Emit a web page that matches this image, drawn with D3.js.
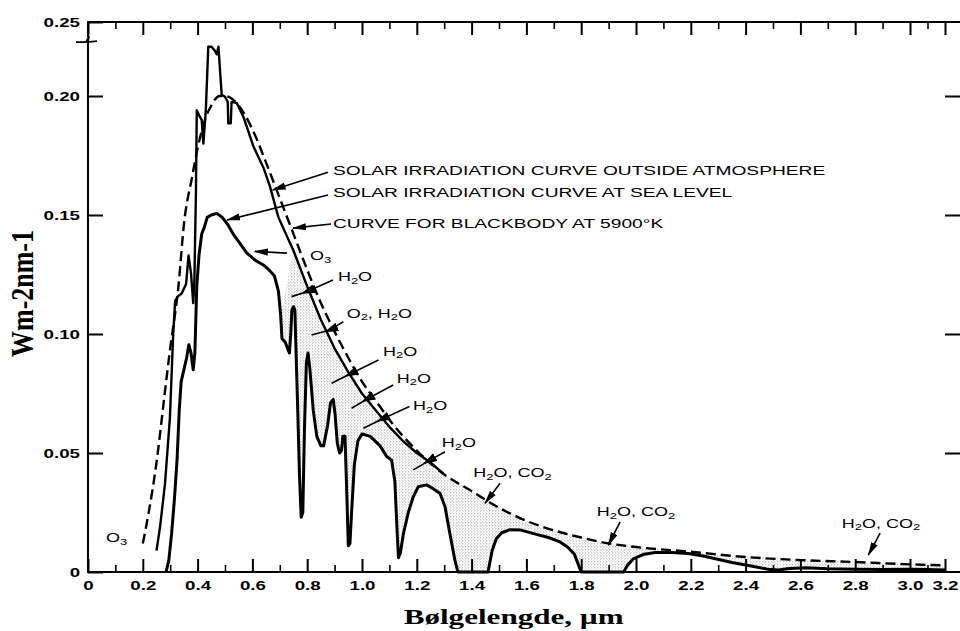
<!DOCTYPE html>
<html>
<head>
<meta charset="utf-8">
<script src="https://cdn.jsdelivr.net/npm/d3@7"></script>
<style>
  body { margin: 0; background: #fff; }
  svg { display: block; }
</style>
</head>
<body>
<svg id="chart" width="960" height="631"></svg>
<script>
/*
 * Solar irradiation spectrum.
 * Wavelength in micrometres, irradiance in W m-2 nm-1.
 */

// blackbody at 5900 K (dashed)
var bbWave = [0.20, 0.22, 0.25, 0.28, 0.30, 0.33, 0.35, 0.38, 0.40, 0.43, 0.45, 0.48, 0.50, 0.55,
  0.60, 0.65, 0.70, 0.75, 0.80, 0.85, 0.90, 0.95, 1.00, 1.05, 1.10, 1.20, 1.30, 1.40, 1.50, 1.60,
  1.70, 1.80, 1.90, 2.00, 2.20, 2.40, 2.60, 2.80, 3.00, 3.20];
var bbIrr = [0.012, 0.024, 0.046, 0.075, 0.094, 0.120, 0.146, 0.166, 0.178, 0.191, 0.196, 0.200, 0.200, 0.196,
  0.186, 0.172, 0.157, 0.142, 0.127, 0.113, 0.101, 0.090, 0.080, 0.072, 0.064, 0.051, 0.041, 0.034, 0.027, 0.0215,
  0.0175, 0.0145, 0.012, 0.0105, 0.0085, 0.0063, 0.005, 0.0042, 0.0032, 0.0028];

// outside the atmosphere (upper solid line)
var outWave = [0.250, 0.263, 0.281, 0.299, 0.311, 0.318, 0.330, 0.342, 0.358, 0.367, 0.376, 0.384, 0.388,
  0.394, 0.397, 0.405, 0.415, 0.421, 0.430, 0.439, 0.451, 0.463, 0.470, 0.476, 0.488, 0.500, 0.510, 0.512,
  0.521, 0.524, 0.543, 0.567, 0.603, 0.640, 0.664, 0.695, 0.750, 0.800, 0.850, 0.900, 0.950, 1.000, 1.050,
  1.100, 1.150, 1.200, 1.250, 1.300];
var outIrr = [0.009, 0.019, 0.037, 0.065, 0.100, 0.114, 0.116, 0.117, 0.121, 0.133, 0.1255, 0.113, 0.121,
  0.160, 0.194, 0.192, 0.190, 0.180, 0.194, 0.2207, 0.2207, 0.219, 0.2175, 0.2207, 0.2005, 0.1997, 0.1975, 0.1885,
  0.1885, 0.1975, 0.197, 0.1913, 0.179, 0.170, 0.162, 0.149, 0.135, 0.120, 0.106, 0.094, 0.084, 0.075, 0.068,
  0.061, 0.055, 0.050, 0.046, 0.041];

// at sea level (lower solid line)
var seaWave = [0.285, 0.295, 0.305, 0.315, 0.325, 0.333, 0.340, 0.350, 0.360, 0.368, 0.376, 0.384, 0.390,
  0.397, 0.405, 0.415, 0.425, 0.435, 0.450, 0.470, 0.490, 0.510, 0.530, 0.555, 0.580, 0.610, 0.640, 0.660,
  0.680, 0.695, 0.703, 0.708, 0.720, 0.728, 0.735, 0.740, 0.744, 0.750, 0.755, 0.758, 0.765, 0.772, 0.778,
  0.784, 0.790, 0.797, 0.803, 0.810, 0.822, 0.835, 0.850, 0.860, 0.875, 0.885, 0.895, 0.902, 0.910, 0.918,
  0.925, 0.930, 0.938, 0.944, 0.950, 0.956, 0.962, 0.972, 0.985, 1.000, 1.030, 1.066, 1.090, 1.108, 1.120,
  1.127, 1.133, 1.140, 1.151, 1.169, 1.187, 1.205, 1.236, 1.260, 1.285, 1.303, 1.321, 1.339, 1.350, 1.460,
  1.475, 1.490, 1.510, 1.540, 1.580, 1.630, 1.680, 1.720, 1.750, 1.775, 1.790, 1.800, 1.955, 1.970, 1.990,
  2.030, 2.070, 2.130, 2.190, 2.240, 2.290, 2.350, 2.420, 2.480, 2.520, 2.560, 2.620, 2.700, 2.800, 2.900,
  3.000, 3.100, 3.200];
var seaIrr = [0, 0.005, 0.016, 0.030, 0.047, 0.068, 0.080, 0.085, 0.090, 0.0955, 0.092, 0.085, 0.092,
  0.120, 0.133, 0.142, 0.145, 0.149, 0.150, 0.1507, 0.149, 0.146, 0.142, 0.138, 0.134, 0.131, 0.129, 0.127,
  0.1245, 0.118, 0.108, 0.098, 0.0965, 0.094, 0.092, 0.100, 0.110, 0.1115, 0.110, 0.098, 0.070, 0.040, 0.023,
  0.025, 0.060, 0.088, 0.092, 0.085, 0.068, 0.057, 0.053, 0.053, 0.062, 0.071, 0.0725, 0.066, 0.054, 0.050,
  0.051, 0.057, 0.057, 0.035, 0.011, 0.012, 0.025, 0.045, 0.055, 0.058, 0.057, 0.053, 0.0485, 0.047, 0.038,
  0.020, 0.006, 0.008, 0.016, 0.025, 0.0316, 0.0358, 0.0366, 0.035, 0.033, 0.0274, 0.016, 0.005, 0, 0,
  0.009, 0.014, 0.0165, 0.0178, 0.0176, 0.016, 0.0145, 0.0128, 0.0105, 0.0075, 0.003, 0, 0, 0.003, 0.0055,
  0.0075, 0.0082, 0.0082, 0.0078, 0.0068, 0.0056, 0.004, 0.0025, 0.0012, 0.0008, 0.0015, 0.0018, 0.0014, 0.0012, 0.001,
  0.0012, 0.001, 0.0008];

// axis ticks
var xMajor = [0, 0.2, 0.4, 0.6, 0.8, 1.0, 1.2, 1.4, 1.6, 1.8, 2.0, 2.2, 2.4, 2.6, 2.8, 3.0, 3.2];
var xMinor = [0.1, 0.3, 0.5, 0.7, 0.9, 1.1, 1.3, 1.5, 1.7, 1.9, 2.1, 2.3, 2.5, 2.7, 2.9, 3.1];
var yTicks = [0, 0.05, 0.10, 0.15, 0.20, 0.25];

// annotations: label (left edge, middle) and arrow points, in data units
var notes = [
  { label: "SOLAR IRRADIATION CURVE OUTSIDE ATMOSPHERE", at: [0.894, 0.1689], line: [[0.876, 0.168], [0.674, 0.1605]] },
  { label: "SOLAR IRRADIATION CURVE AT SEA LEVEL", at: [0.894, 0.1597], line: [[0.876, 0.1584], [0.507, 0.1479]] },
  { label: "CURVE FOR BLACKBODY AT 5900°K", at: [0.894, 0.1466], line: [[0.887, 0.1462], [0.748, 0.1445]] },
  { label: "O_3", at: [0.81, 0.1328], line: [[0.726, 0.134], [0.609, 0.1347]] },
  { label: "H_2O", at: [0.912, 0.124], line: [[0.894, 0.1227], [0.798, 0.1178], [0.743, 0.1157]] },
  { label: "O_2, H_2O", at: [0.944, 0.1087], line: [[0.932, 0.1052], [0.883, 0.1017], [0.816, 0.0996]] },
  { label: "H_2O", at: [1.077, 0.0926], line: [[1.06, 0.0891], [0.956, 0.0832], [0.889, 0.0793]] },
  { label: "H_2O", at: [1.127, 0.0814], line: [[1.114, 0.0786], [1.017, 0.0726], [0.962, 0.0688]] },
  { label: "H_2O", at: [1.186, 0.0697], line: [[1.173, 0.0695], [1.072, 0.0642], [1.005, 0.0604]] },
  { label: "H_2O", at: [1.291, 0.0543], line: [[1.303, 0.0505], [1.242, 0.0466], [1.187, 0.0429]] },
  { label: "H_2O, CO_2", at: [1.406, 0.0417], line: [[1.504, 0.0373], [1.449, 0.0289]] },
  { label: "H_2O, CO_2", at: [1.857, 0.0253], line: [[1.942, 0.0211], [1.899, 0.0113]] },
  { label: "H_2O, CO_2", at: [2.751, 0.0205], line: [[2.891, 0.0163], [2.848, 0.0071]] },
  { label: "O_3", at: [0.066, 0.0143] }
];

/*
 * Drawing
 */
var svg = d3.select("#chart"),
  W = +svg.attr("width"),
  H = +svg.attr("height");

var sans = "'Liberation Sans', Arial, Helvetica, sans-serif";
var serif = "'Liberation Serif', 'Times New Roman', serif";
var SX = 1.5; // the scan is stretched sideways, so is its lettering

// the scan squeezes the last 0.2 um and the top 0.025 (axis break)
var x = d3.scaleLinear().domain([0, 3.0, 3.2]).range([88, 910, 945]);
var y = d3.scaleLinear().domain([0, 0.225, 0.25]).range([572, 36.5, 22]);

function zip(xs, ys) { return xs.map(function (v, i) { return [v, ys[i]]; }); }
var bb = zip(bbWave, bbIrr),
  outside = zip(outWave, outIrr),
  sea = zip(seaWave, seaIrr);

var line = d3.line().x(function (d) { return x(d[0]); }).y(function (d) { return y(d[1]); });

var defs = svg.append("defs");
var pat = defs.append("pattern")
  .attr("id", "stipple")
  .attr("patternUnits", "userSpaceOnUse")
  .attr("width", 3).attr("height", 3);
pat.append("circle").attr("cx", 0.8).attr("cy", 0.8).attr("r", 0.6).attr("fill", "#8a8a8a");
pat.append("circle").attr("cx", 2.3).attr("cy", 2.2).attr("r", 0.45).attr("fill", "#b0b0b0");

defs.append("marker")
  .attr("id", "tip")
  .attr("viewBox", "0 -5 14 10")
  .attr("refX", 13).attr("refY", 0)
  .attr("markerWidth", 14).attr("markerHeight", 10)
  .attr("markerUnits", "userSpaceOnUse")
  .attr("orient", "auto")
  .append("path").attr("d", "M0,-3.6L14,0L0,3.6Z");

defs.append("marker")
  .attr("id", "mid")
  .attr("viewBox", "0 -6 14 12")
  .attr("refX", 8).attr("refY", 0)
  .attr("markerWidth", 14).attr("markerHeight", 12)
  .attr("markerUnits", "userSpaceOnUse")
  .attr("orient", "auto")
  .append("path").attr("d", "M0,-4.5L14,0L0,4.5Z");

// stippled absorption bands between the top curve and sea level
var upper = outside.filter(function (d) { return d[0] >= 0.7; })
  .concat(bb.filter(function (d) { return d[0] > 1.3; }));
var lower = sea.filter(function (d) { return d[0] >= 0.7; }).reverse();
svg.append("path")
  .attr("d", line(upper.concat(lower)) + "Z")
  .attr("fill", "url(#stipple)");

// curves
svg.append("path")
  .attr("d", line.curve(d3.curveMonotoneX)(bb))
  .attr("fill", "none").attr("stroke", "#000")
  .attr("stroke-width", 2.4).attr("stroke-dasharray", "10,5");
line.curve(d3.curveLinear);
svg.append("path")
  .attr("d", line(outside))
  .attr("fill", "none").attr("stroke", "#000")
  .attr("stroke-width", 2.4).attr("stroke-linejoin", "round");
svg.append("path")
  .attr("d", line(sea))
  .attr("fill", "none").attr("stroke", "#000")
  .attr("stroke-width", 3).attr("stroke-linejoin", "round");

/*
 * Axes
 */
function styleTicks(g, w) {
  g.select(".domain").remove();
  g.selectAll(".tick line").attr("stroke-width", w);
  g.attr("font-family", sans).attr("font-size", 12.5).attr("font-weight", "bold");
  g.selectAll(".tick text").attr("transform", "scale(" + SX + ",1)");
}
var fmtX = function (d) { return d === 0 ? "0" : d3.format(".1f")(d); };
var fmtY = function (d) { return d === 0 ? "0" : d3.format(".2f")(d); };

svg.append("g").attr("transform", "translate(0," + y(0) + ")")
  .call(d3.axisBottom(x).tickValues(xMinor).tickSizeInner(-7).tickSizeOuter(0).tickFormat(""))
  .call(styleTicks, 1.6);
svg.append("g").attr("transform", "translate(0," + y(0) + ")")
  .call(d3.axisBottom(x).tickValues(xMajor).tickSizeInner(-13).tickSizeOuter(0).tickPadding(9).tickFormat(fmtX))
  .call(styleTicks, 2);

svg.append("g").attr("transform", "translate(0," + y(0.25) + ")")
  .call(d3.axisTop(x).tickValues(xMinor).tickSizeInner(-7).tickSizeOuter(0).tickFormat(""))
  .call(styleTicks, 1.6);
svg.append("g").attr("transform", "translate(0," + y(0.25) + ")")
  .call(d3.axisTop(x).tickValues(xMajor).tickSizeInner(-13).tickSizeOuter(0).tickFormat(""))
  .call(styleTicks, 2);

svg.append("g").attr("transform", "translate(" + x(0) + ",0)")
  .call(d3.axisLeft(y).tickValues(yTicks).tickSizeInner(-15).tickSizeOuter(0).tickPadding(5.3).tickFormat(fmtY))
  .call(styleTicks, 2);
svg.append("g").attr("transform", "translate(" + W + ",0)")
  .call(d3.axisRight(y).tickValues(yTicks.slice(1, 5)).tickSizeInner(-15).tickSizeOuter(0).tickFormat(""))
  .call(styleTicks, 2);

// frame: top, left and bottom lines run to the page edge
var frame = svg.append("g").attr("fill", "none").attr("stroke", "#000").attr("stroke-width", 2);
frame.append("path").attr("d", d3.line()([[x(0) - 1, y(0.25)], [W, y(0.25)]]));
frame.append("path").attr("d", d3.line()([[x(0), y(0.25)], [x(0), y(0)]]));
frame.append("path").attr("d", d3.line()([[x(0) - 1, y(0)], [W, y(0)]]));

// axis break mark
var yb = y(0.2235);
svg.append("rect").attr("x", x(0) - 2).attr("y", yb - 3).attr("width", 4).attr("height", 5).attr("fill", "#fff");
svg.append("path")
  .attr("d", "M" + (x(0) - 12) + "," + (yb + 2) + "L" + (x(0) - 2) + "," + (yb + 2) +
    "L" + (x(0) + 1) + "," + (yb - 4) + "L" + x(0) + "," + (yb + 2) + "L" + (x(0) + 9) + "," + (yb + 1))
  .attr("fill", "none").attr("stroke", "#000").attr("stroke-width", 1.8);

/*
 * Annotations
 */
function chem(t, s) {
  var down = false;
  s.split(/(_\d)/).forEach(function (p) {
    if (!p) return;
    if (p[0] === "_") {
      t.append("tspan").attr("font-size", "0.72em").attr("dy", 2.5).text(p.slice(1));
      down = true;
    } else {
      t.append("tspan").attr("dy", down ? -2.5 : null).text(p);
      down = false;
    }
  });
}

var ann = svg.append("g").attr("font-family", sans).attr("fill", "#000");
notes.forEach(function (n) {
  var big = n.label.length > 20,
    fs = big ? 12.8 : 12;
  var t = ann.append("text")
    .attr("transform", "translate(" + x(n.at[0]) + "," + y(n.at[1]) + ") scale(" + SX + ",1)")
    .attr("y", fs * 0.36)
    .attr("font-size", fs);
  chem(t, n.label);
  if (!n.line) return;
  var p = ann.append("path")
    .attr("d", line(n.line))
    .attr("fill", "none").attr("stroke", "#000").attr("stroke-width", 1.6);
  if (n.line.length > 2) p.attr("marker-mid", "url(#mid)");
  else p.attr("marker-end", "url(#tip)");
});

// axis titles
svg.append("text")
  .attr("transform", "translate(33," + ((y(0.1) + y(0.15)) / 2 + 19) + ") scale(1.3,1) rotate(-90)")
  .attr("text-anchor", "middle")
  .attr("font-family", serif).attr("font-weight", "bold").attr("font-size", 24)
  .attr("textLength", 127).attr("lengthAdjust", "spacingAndGlyphs")
  .text("Wm-2nm-1");

svg.append("text")
  .attr("x", (x(1.2) + x(1.9)) / 2 + 1).attr("y", 624)
  .attr("text-anchor", "middle")
  .attr("font-family", serif).attr("font-weight", "bold").attr("font-size", 20)
  .attr("textLength", 220).attr("lengthAdjust", "spacingAndGlyphs")
  .text("Bølgelengde, µm");
</script>
</body>
</html>
